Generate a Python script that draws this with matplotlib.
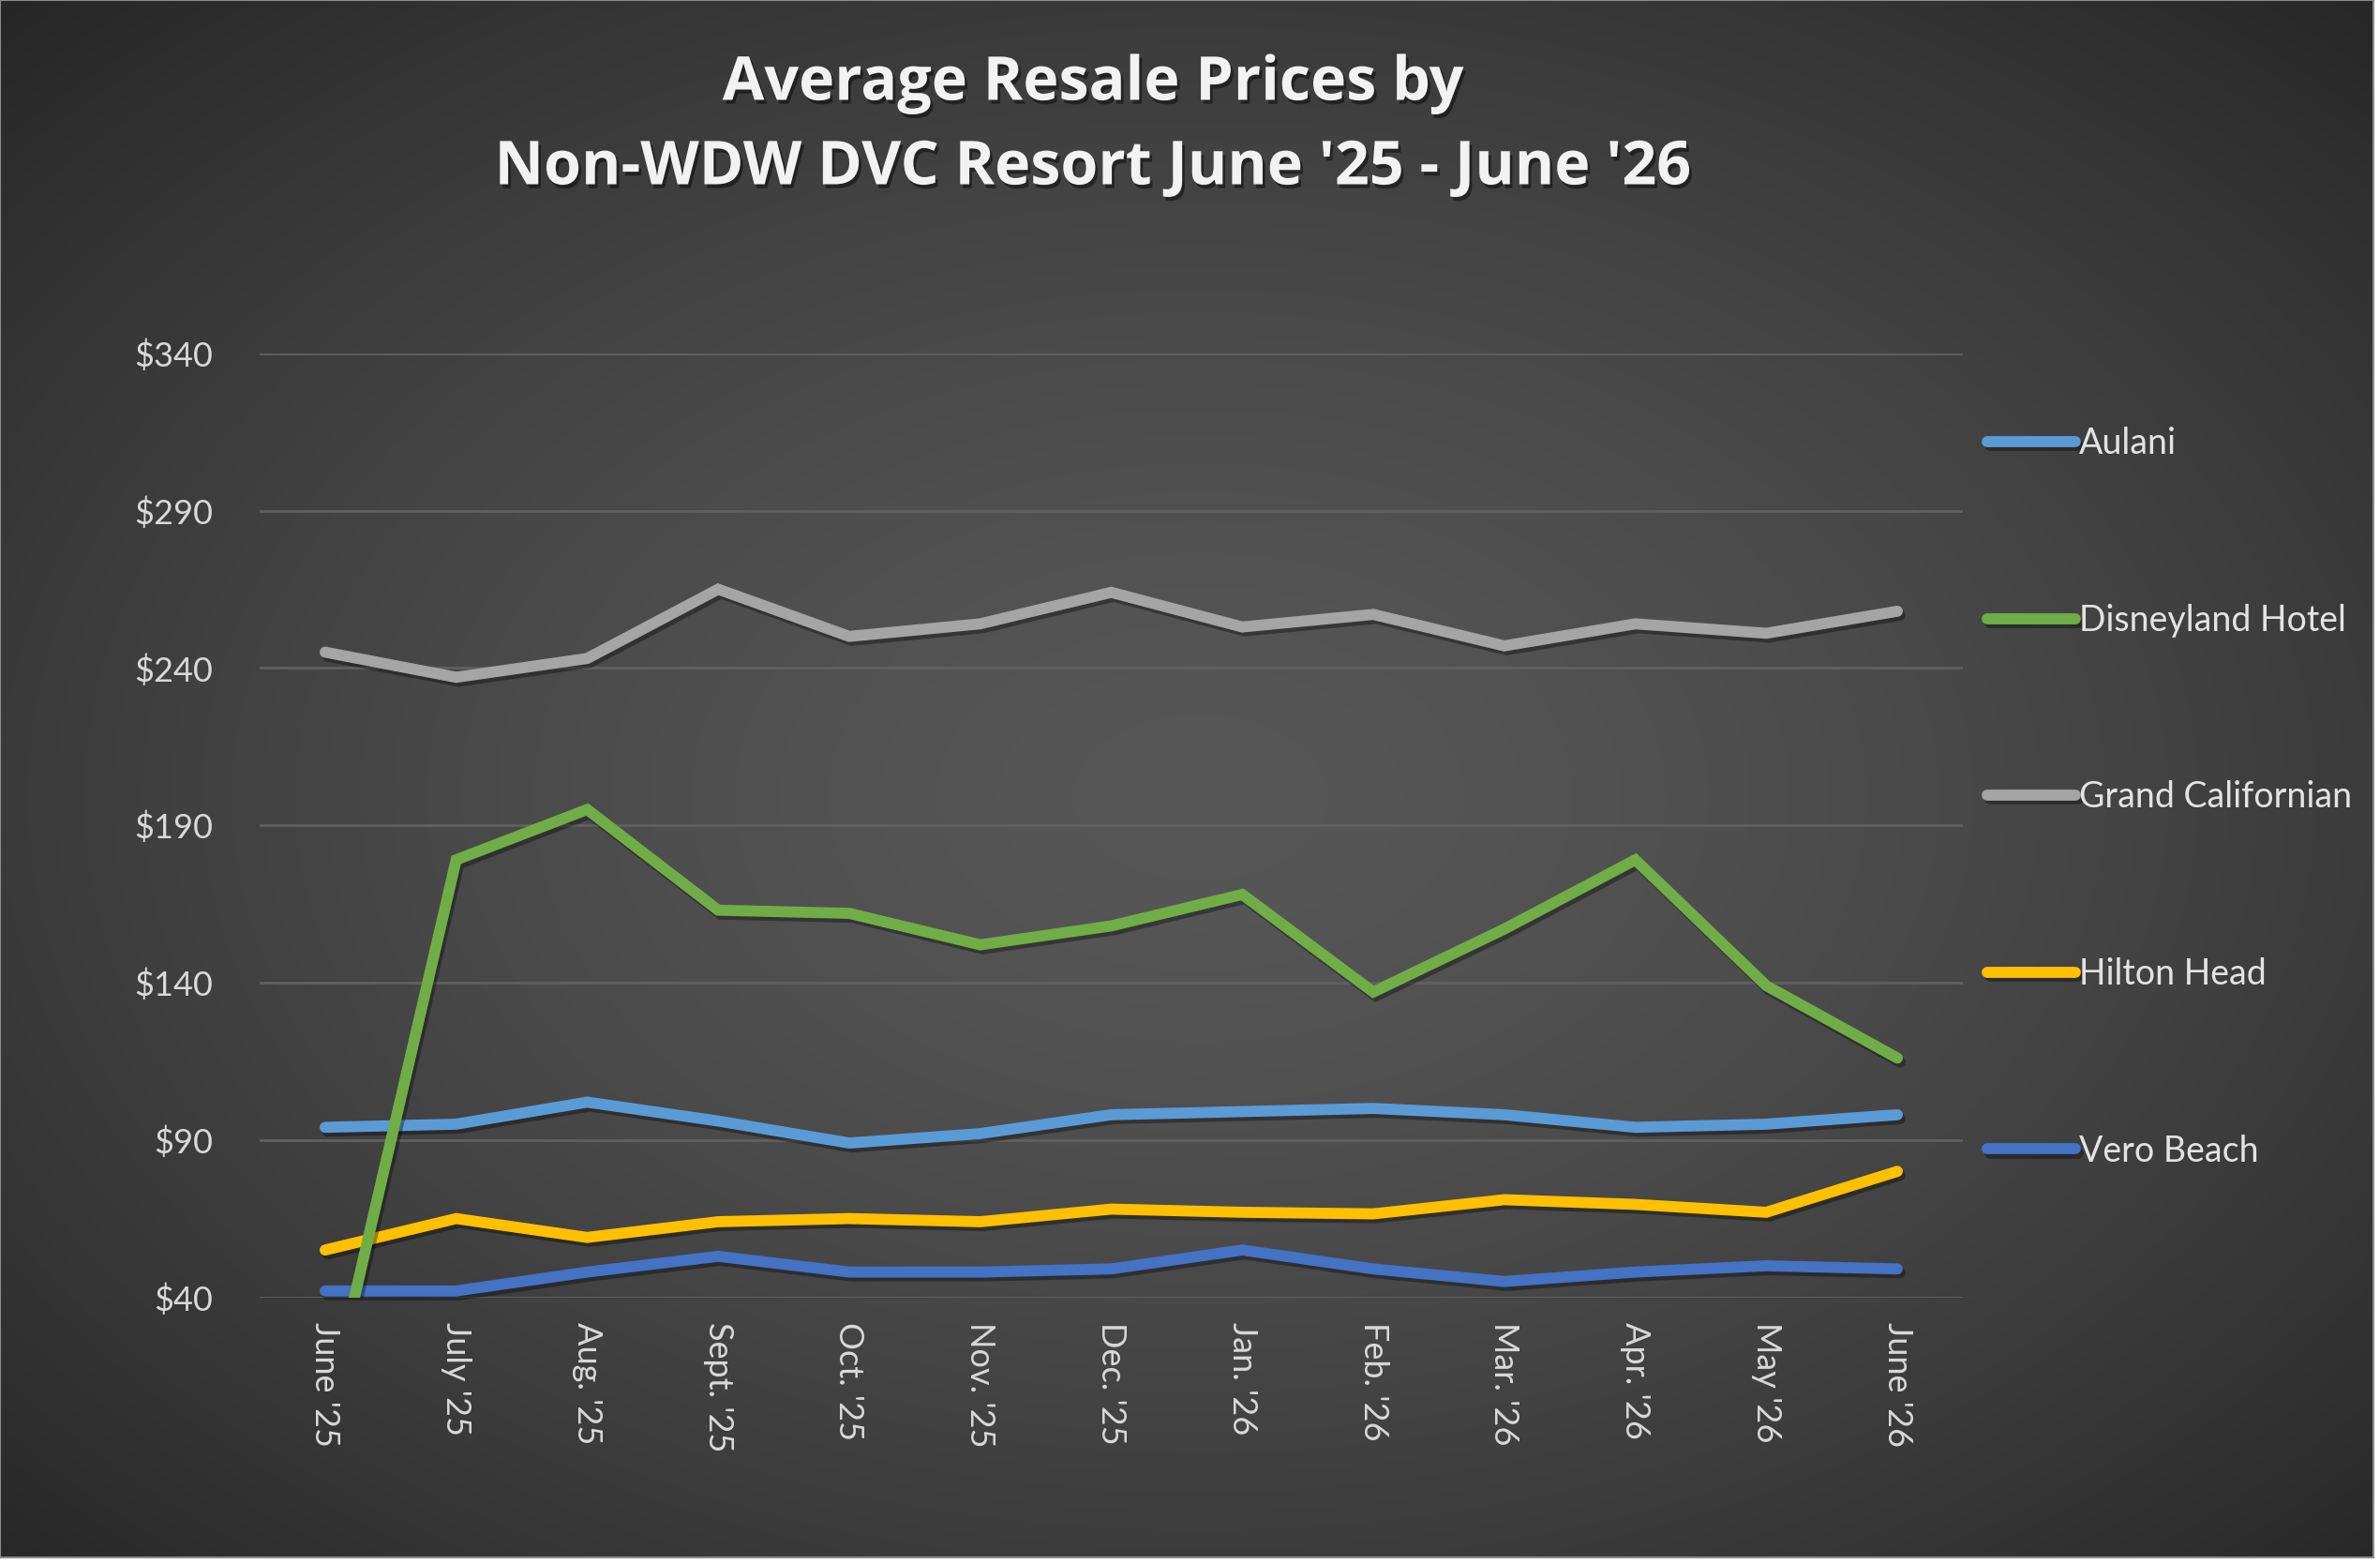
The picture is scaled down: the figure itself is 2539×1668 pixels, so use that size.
import numpy as np
import matplotlib
matplotlib.use("Agg")
import matplotlib.pyplot as plt
import matplotlib.patheffects as pe

# data
months = ["June '25", "July '25", "Aug. '25", "Sept. '25", "Oct. '25", "Nov. '25", "Dec. '25",
          "Jan. '26", "Feb. '26", "Mar. '26", "Apr. '26", "May '26", "June '26"]
aulani = [94, 95, 102, 96, 89, 92, 98, 99, 100, 98, 94, 95, 98]
disneyland_hotel = [0, 179, 195, 163, 162, 152, 158, 168, 137, 157, 179, 139, 116]
grand_californian = [245, 237, 243, 265, 250, 254, 264, 253, 257, 247, 254, 251, 258]
hilton_head = [55, 65, 59, 64, 65, 64, 68, 67, 66.5, 71, 69.5, 67, 80]
vero_beach = [42, 42, 48, 53, 48, 48, 49, 55, 49, 45, 48, 50, 49]
series_names = ["Aulani", "Disneyland Hotel", "Grand Californian", "Hilton Head", "Vero Beach"]
series_colors = ["#5B9BD5", "#70AD47", "#A5A5A5", "#FFC000", "#4472C4"]
yticks = [40, 90, 140, 190, 240, 290, 340]

W, H = 2539, 1668
fig = plt.figure(figsize=(W / 100, H / 100), dpi=100, facecolor="white")

# dark radial background
bw, bh = 2532, 1661
bg = fig.add_axes([0, (H - bh) / H, bw / W, bh / H])
yy, xx = np.mgrid[0:bh, 0:bw]
r = np.sqrt(((xx - 1280) / 1270.0) ** 2 + ((yy - 850) / 834.0) ** 2)
shade = (87 - 49 * np.clip(r / 1.43, 0, 1) ** 1.5) / 255.0
bg.imshow(np.dstack([shade, shade, shade]), aspect="auto", interpolation="bilinear")
bg.set_xticks([])
bg.set_yticks([])
for s in bg.spines.values():
    s.set_color("#8c8c8c")
    s.set_linewidth(1.5)

ax = fig.add_axes([277 / W, 1 - 1383.5 / H, (2094 - 277) / W, (1383.5 - 376.7) / H])
ax.set_facecolor("none")

x = np.arange(len(months))
all_series = [aulani, disneyland_hotel, grand_californian, hilton_head, vero_beach]
shadow = [pe.SimpleLineShadow(offset=(2, -3), shadow_color="black", alpha=0.35), pe.Normal()]
for name, vals, col in zip(series_names, all_series, series_colors):
    green = name == "Disneyland Hotel"
    ax.plot(x, vals, color=col, lw=8.5, label=name, solid_capstyle="round",
            solid_joinstyle="miter", clip_on=green, zorder=4 if green else 3,
            path_effects=shadow)

ax.set_xlim(-0.5, len(months) - 0.5)
ax.set_ylim(40, 340)
ax.set_yticks(yticks)
ax.set_yticklabels(["$" + str(v) for v in yticks])
ax.set_xticks(x)
ax.set_xticklabels(months, rotation=270)
ax.grid(axis="y", color="#606060", lw=2)
ax.set_axisbelow(True)
for s in ax.spines.values():
    s.set_visible(False)
ax.tick_params(axis="y", length=0, pad=36, labelsize=26, labelcolor="#d9d9d9")
ax.tick_params(axis="x", length=0, pad=19, labelsize=26, labelcolor="#d9d9d9")
for lab in ax.get_xticklabels() + ax.get_yticklabels():
    lab.set_fontfamily("Lato")

leg = fig.legend(loc="upper left", bbox_to_anchor=(2120 / W, 1 - 455 / H), frameon=False,
                 prop={"family": "Lato", "size": 27}, labelcolor="#e3e3e3",
                 handlelength=2.5, handletextpad=0.1, labelspacing=4.07,
                 borderpad=0, borderaxespad=0)
for h in leg.get_lines():
    h.set_linewidth(8.5)
    h.set_solid_capstyle("round")

title_fx = [pe.withSimplePatchShadow(offset=(2, -3), shadow_rgbFace="black", alpha=0.45)]
fig.text(1166 / W, 1 - 90 / H, "Average Resale Prices by", ha="center", va="center",
         fontsize=46.5, fontweight="bold", family="Open Sans", color="#f2f2f2",
         path_effects=title_fx)
fig.text(1166 / W, 1 - 180 / H, "Non-WDW DVC Resort June '25 - June '26", ha="center",
         va="center", fontsize=46.5, fontweight="bold", family="Open Sans", color="#f2f2f2",
         path_effects=title_fx)

fig.savefig("out.png", dpi=100, facecolor="white")
